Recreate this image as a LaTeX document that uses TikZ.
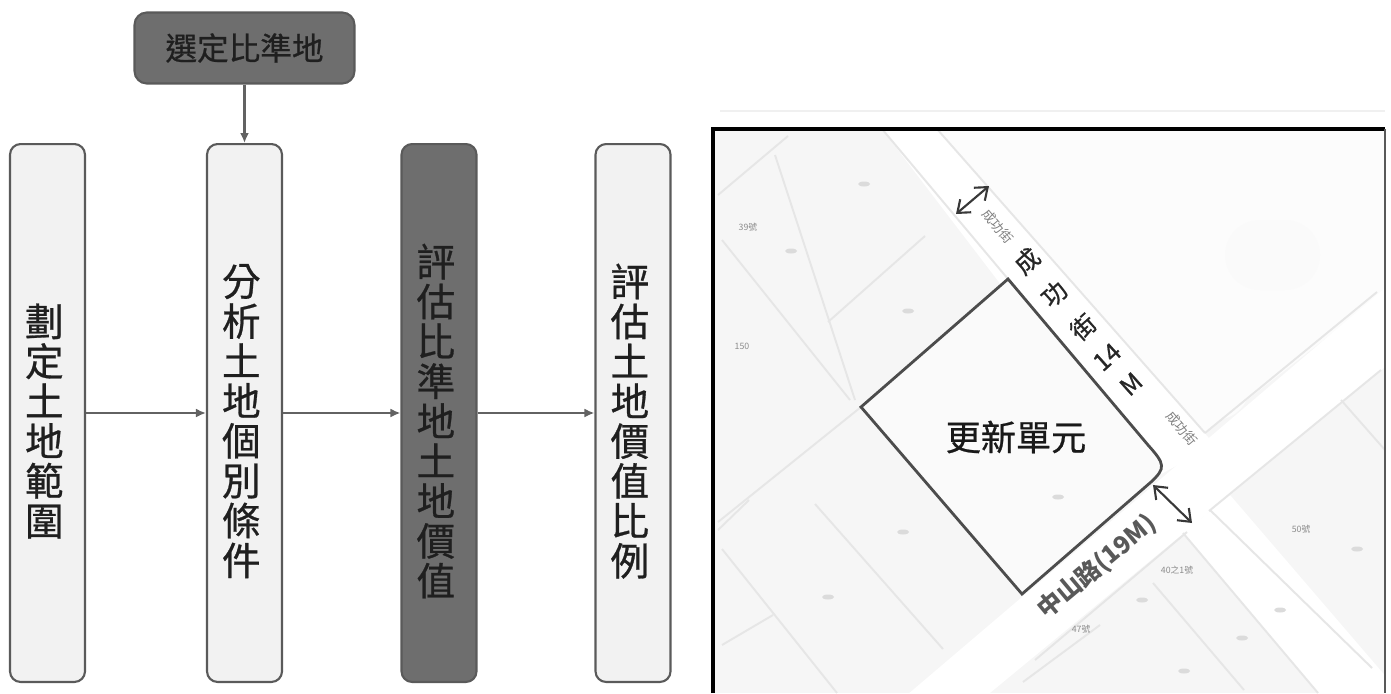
\documentclass[tikz,border=0pt]{standalone}
\usepackage{fontspec}
\usepackage{xcolor}
\setmainfont{Noto Sans CJK TC}
\newfontfamily\heavyfont[FakeBold=0.7]{Noto Sans CJK TC}
\usetikzlibrary{arrows.meta}
\definecolor{boxline}{HTML}{5A5A5A}
\definecolor{boxfill}{HTML}{F2F2F2}
\definecolor{darkfill}{HTML}{6E6E6E}
\definecolor{flowline}{HTML}{626262}
\definecolor{blockfill}{HTML}{F6F6F6}
\definecolor{blockline}{HTML}{E6E6E6}
\tikzset{
  stepbox/.style={draw=boxline,line width=1.2pt,rounded corners=6pt,fill=boxfill,
    minimum width=1.5cm,minimum height=10.76cm,inner sep=0pt},
  darkbox/.style={stepbox,fill=darkfill},
  steptext/.style={align=center,inner sep=0pt,xshift=-1.8pt,yshift=-4.6pt,
    font=\heavyfont\fontsize{22}{22.7}\selectfont,text=black!88},
  topbox/.style={draw=boxline,line width=1.2pt,rounded corners=7pt,fill=darkfill,
    minimum width=4.4cm,minimum height=1.42cm,inner sep=0pt,
    font=\heavyfont\fontsize{18}{18}\selectfont,text=black!88},
  flow/.style={draw=flowline,line width=1.5pt,-{Latex[length=2mm,width=1.8mm]}},
  roadline/.style={draw=blockline,line width=1.1pt},
  maptext/.style={font=\fontsize{5}{5}\selectfont,text=black!45,inner sep=0pt},
  roadtext/.style={font=\heavyfont\fontsize{14}{14}\selectfont,text=black!85,inner sep=0pt,rotate=42},
  sidetext/.style={font=\fontsize{7.5}{8}\selectfont,text=black!50,inner sep=0pt,rotate=-50},
  smudge/.style={fill=black!14},
  dimarrow/.style={draw=black!78,line width=1.2pt,{Straight Barb[length=2.2mm,width=3.4mm]}-{Straight Barb[length=2.2mm,width=3.4mm]}},
}
\begin{document}
\begin{tikzpicture}[x=0.02cm,y=-0.02cm]
\useasboundingbox (0,0) rectangle (1391,693);
% flow chart
\node[topbox] (select) at (244.5,48) {選定比準地};
\node[stepbox,label={[steptext]center:{劃\\定\\土\\地\\範\\圍}}] (extent) at (47.5,413) {};
\node[stepbox,label={[steptext]center:{分\\析\\土\\地\\個\\別\\條\\件}}] (parcel) at (244.5,413) {};
\node[darkbox,label={[steptext]center:{評\\估\\比\\準\\地\\土\\地\\價\\值}}] (value) at (439,413) {};
\node[stepbox,label={[steptext]center:{評\\估\\土\\地\\價\\值\\比\\例}}] (ratio) at (633,413) {};
\draw[flow] (select) -- (parcel);
\draw[flow] (extent) -- (parcel);
\draw[flow] (parcel) -- (value);
\draw[flow] (value) -- (ratio);
% map
\begin{scope}
\clip (713,129) rectangle (1385,693);
\fill[blockfill] (713,129) rectangle (1385,693);
\fill[white!99!black] (937,129) -- (1385,129) -- (1385,292) -- (1205,433) -- cycle;
\fill[black!2,rounded corners=20pt] (1225,220) rectangle (1320,290);
\fill[black!1,rounded corners=20pt] (1130,350) rectangle (1250,420);
\fill[white] (882,129) -- (937,129) -- (1215,445) -- (1150,480) -- cycle;
\fill[white] (1385,288) -- (1385,367) -- (939,735) -- (860,735) -- cycle;
\fill[white] (1183,533) -- (1230,495) -- (1400,693) -- (1318,693) -- cycle;
\foreach \xa/\ya/\xb/\yb in {718/195/788/136,718/522/861/407,749/500/718/530,
    828/322/925/236,722/645/773/615,722/240/850/400,775/155/855/400,722/549/837/693,
    815/504/943/649,1153/583/1244/690,1023/682/1100/625,882/129/1008/279,
    937/129/1205/433,1210/510/1372/668,1183/533/1318/693,1205/433/1377/292,1187/532/1035/660,1209/511/1381/370,
    861/407/1022/594,1341/400/1385/450}
  \draw[roadline] (\xa,\ya) -- (\xb,\yb);
\foreach \xa/\ya in {864/184,791/251,908/311,903/532,828/597,1142/600,1242/638,1357/549,1280/610,1184/671}
  \fill[smudge] (\xa,\ya) ellipse (6 and 2.5);
\end{scope}
\draw[black!70,line width=1.6pt,fill=white!98!black]
  (1008,279) -- (1148,445) .. controls (1165,464) and (1166,468) .. (1151,482)
  -- (1022,594) -- (861,407) -- cycle;
\fill[smudge] (1058,497) ellipse (6 and 2.5);
\draw[black,line width=1.8pt] (713,693) -- (713,129) -- (1385,129);
\draw[black!65,line width=1.2pt] (1385,129) -- (1385,693);
\draw[black!6,line width=0.6pt] (720,111) -- (1385,111);
% map labels
\node[font=\heavyfont\fontsize{20}{20}\selectfont,text=black!90,inner sep=0pt] (unit) at (1016,437) {更新單元};
\node[roadtext] (cheng) at (1027,261) {成};
\node[roadtext] (gong) at (1054,294) {功};
\node[roadtext] (jie) at (1083,327) {街};
\node[roadtext] (width) at (1107,357) {14};
\node[roadtext] (meter) at (1131,384) {M};
\node[font=\bfseries\fontsize{14}{14}\selectfont,text=black!65,rotate=40,inner sep=0pt] (zhongshan) at (1097,567) {中山路(19M)};
\node[sidetext] (signa) at (998,226) {成功街};
\node[sidetext] (signb) at (1182,428) {成功街};
\node[maptext] (lota) at (748,227) {39號};
\node[maptext] (lotb) at (742,346) {150};
\node[maptext] (lotc) at (1301,529) {50號};
\node[maptext] (lotd) at (1177,570) {40之1號};
\node[maptext] (lote) at (1081,629) {47號};
\coordinate (topa) at (956,214);
\coordinate (topb) at (989,186);
\coordinate (lowa) at (1153,485);
\coordinate (lowb) at (1192,523);
\draw[dimarrow] (topa) -- (topb);
\draw[dimarrow] (lowa) -- (lowb);
\end{tikzpicture}
\end{document}
